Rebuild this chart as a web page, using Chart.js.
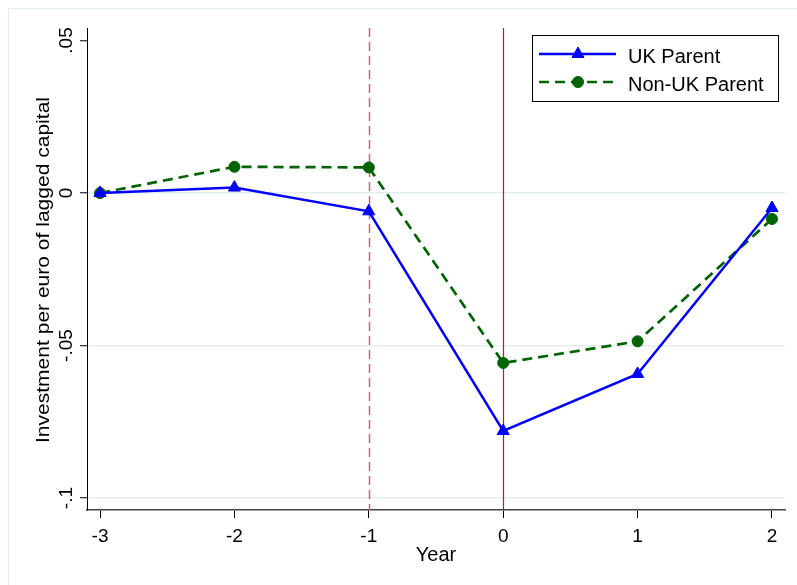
<!DOCTYPE html>
<html>
<head>
<meta charset="utf-8">
<script src="https://cdn.jsdelivr.net/npm/chart.js@4.4.1/dist/chart.umd.min.js"></script>
<style>
  body { margin: 0; background: #fff; }
  #wrap { width: 797px; height: 585px; }
</style>
</head>
<body>
<div id="wrap"><canvas id="c" width="797" height="585"></canvas></div>
<script>
const years = [-3, -2, -1, 0, 1, 2];
const ukParent = [0, 0.0018, -0.006, -0.078, -0.0593, -0.0049];
const nonUkParent = [0, 0.0086, 0.0084, -0.0557, -0.0486, -0.0085];
const xTicks = [-3, -2, -1, 0, 1, 2];
const yTicks = [0.05, 0, -0.05, -0.1];
const yTickLabels = ['.05', '0', '-.05', '-.1'];
const eventLines = [{x: -1, dashed: true}, {x: 0, dashed: false}];

const FONT = '"Liberation Sans", Arial, sans-serif';
const BLUE = '#0000ff', GREEN = '#006400';

const toPts = ys => years.map((x, i) => ({x: x, y: ys[i]}));

const stataDecor = {
  id: 'stataDecor',
  beforeDraw(chart) {
    const ctx = chart.ctx;
    ctx.save();
    ctx.strokeStyle = '#e3ecef';
    ctx.lineWidth = 1;
    ctx.strokeRect(8.5, 8.5, 820, 620);
    ctx.restore();
  },
  beforeDatasetsDraw(chart) {
    const {ctx, chartArea, scales} = chart;
    ctx.save();
    eventLines.forEach(l => {
      const px = Math.round(scales.x.getPixelForValue(l.x)) + 0.5;
      ctx.beginPath();
      if (l.dashed) {
        ctx.strokeStyle = '#d0607f';
        ctx.lineWidth = 1.5;
        ctx.setLineDash([9, 5]);
      } else {
        ctx.strokeStyle = '#b01c3c';
        ctx.lineWidth = 1.2;
        ctx.setLineDash([]);
      }
      ctx.moveTo(px, chartArea.top);
      ctx.lineTo(px, chartArea.bottom);
      ctx.stroke();
    });
    ctx.restore();
  },
  afterDraw(chart) {
    const {ctx, chartArea, scales} = chart;
    ctx.save();
    ctx.fillStyle = '#000';

    // x tick labels
    ctx.font = '19px ' + FONT;
    ctx.textAlign = 'center';
    ctx.textBaseline = 'alphabetic';
    xTicks.forEach(v => {
      ctx.fillText(String(v), scales.x.getPixelForValue(v), 542);
    });
    // x title
    ctx.font = '20px ' + FONT;
    ctx.fillText('Year', (chartArea.left + chartArea.right) / 2, 561);

    // y tick labels, rotated
    ctx.font = '19px ' + FONT;
    yTicks.forEach((v, i) => {
      ctx.save();
      ctx.translate(72, scales.y.getPixelForValue(v));
      ctx.rotate(-Math.PI / 2);
      ctx.fillText(yTickLabels[i], 0, 0);
      ctx.restore();
    });
    // y title
    ctx.save();
    ctx.font = '19px ' + FONT;
    const title = 'Investment per euro of lagged capital';
    const w = ctx.measureText(title).width;
    ctx.translate(49, 270);
    ctx.rotate(-Math.PI / 2);
    ctx.scale(346 / w, 1);
    ctx.fillText(title, 0, 0);
    ctx.restore();

    // legend
    ctx.strokeStyle = '#000';
    ctx.lineWidth = 1;
    ctx.strokeRect(532.5, 35.5, 246, 66);
    const items = [
      {text: 'UK Parent', color: BLUE, dash: [], style: 'triangle', r: 7, y: 54, ty: 63},
      {text: 'Non-UK Parent', color: GREEN, dash: [10, 6], style: 'circle', r: 5.5, y: 82, ty: 91}
    ];
    items.forEach(it => {
      ctx.beginPath();
      ctx.strokeStyle = it.color;
      ctx.lineWidth = 2.5;
      ctx.setLineDash(it.dash);
      ctx.moveTo(539, it.y);
      ctx.lineTo(616, it.y);
      ctx.stroke();
      ctx.setLineDash([]);
      ctx.fillStyle = it.color;
      ctx.strokeStyle = it.color;
      ctx.lineWidth = 1;
      Chart.helpers.drawPoint(ctx, {pointStyle: it.style, radius: it.r, rotation: 0, borderWidth: 1}, 578, it.y);
      ctx.fillStyle = '#000';
      ctx.font = '20px ' + FONT;
      ctx.textAlign = 'left';
      ctx.fillText(it.text, 628, it.ty);
    });
    ctx.restore();
  }
};

new Chart(document.getElementById('c'), {
  type: 'line',
  data: {
    datasets: [{
      label: 'UK Parent',
      data: toPts(ukParent),
      borderColor: BLUE,
      backgroundColor: BLUE,
      borderWidth: 2.5,
      pointStyle: 'triangle',
      pointRadius: 7,
      pointBorderWidth: 1,
      tension: 0
    }, {
      label: 'Non-UK Parent',
      data: toPts(nonUkParent),
      borderColor: GREEN,
      backgroundColor: GREEN,
      borderWidth: 2.7,
      borderDash: [10, 6],
      pointStyle: 'circle',
      pointRadius: 5.5,
      pointBorderWidth: 1,
      tension: 0
    }]
  },
  options: {
    responsive: false,
    animation: false,
    layout: {padding: {left: 0, top: 28, right: 12, bottom: 0}},
    plugins: {legend: {display: false}, tooltip: {enabled: false}},
    scales: {
      x: {
        type: 'linear',
        min: -3.097,
        max: 2.097,
        afterBuildTicks: s => { s.ticks = xTicks.map(v => ({value: v})); },
        afterFit: s => { s.height = 75; },
        ticks: {display: false},
        border: {color: '#444', width: 1.5},
        grid: {drawOnChartArea: false, drawTicks: true, tickLength: 8, tickColor: '#000', tickWidth: 1}
      },
      y: {
        type: 'linear',
        min: -0.1039,
        max: 0.0541,
        afterBuildTicks: s => { s.ticks = yTicks.map(v => ({value: v})); },
        afterFit: s => { s.width = 87; },
        ticks: {display: false},
        border: {color: '#000', width: 1},
        grid: {
          color: c => (c.tick && c.tick.value === 0.05) ? 'rgba(0,0,0,0)' : '#e4eef1',
          lineWidth: 1.5,
          drawTicks: true,
          tickLength: 7,
          tickColor: '#000',
          tickWidth: 1
        }
      }
    }
  },
  plugins: [stataDecor]
});
</script>
</body>
</html>
